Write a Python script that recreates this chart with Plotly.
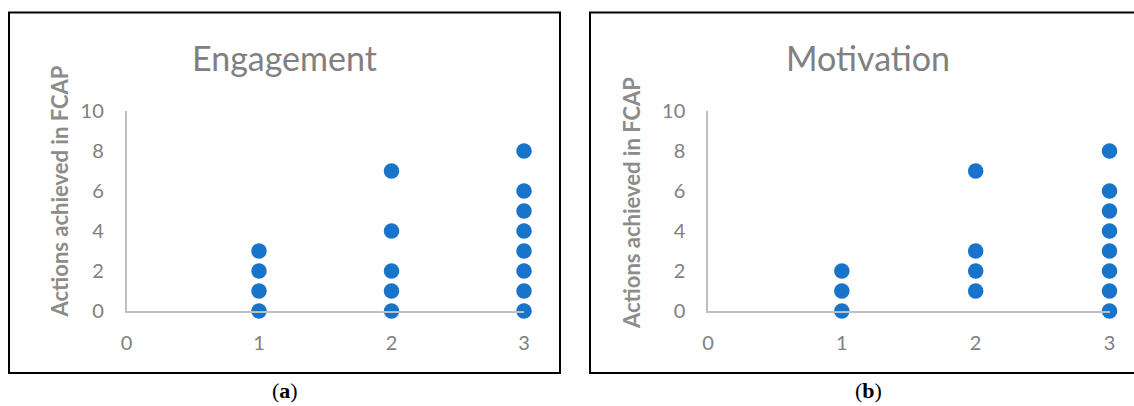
import plotly.graph_objects as go

# ---- data ----
eng_x = [1, 1, 1, 1, 2, 2, 2, 2, 2, 3, 3, 3, 3, 3, 3, 3, 3]
eng_y = [0, 1, 2, 3, 0, 1, 2, 4, 7, 0, 1, 2, 3, 4, 5, 6, 8]
mot_x = [1, 1, 1, 2, 2, 2, 2, 3, 3, 3, 3, 3, 3, 3, 3]
mot_y = [0, 1, 2, 1, 2, 3, 7, 0, 1, 2, 3, 4, 5, 6, 8]
titles = ["Engagement", "Motivation"]
y_title = "Actions achieved in FCAP"
panel_labels = ["(<b>a</b>)", "(<b>b</b>)"]
x_ticks = [0, 1, 2, 3]
y_ticks = [0, 2, 4, 6, 8, 10]

W, H = 1134, 406
def px(x):
    return x / W
def py(y):
    return 1 - y / H

MARK = "#1873cb"
GRAY = "#808080"
AXIS = "#bfbfbf"
FONT = "Lato"

fig = go.Figure()
fig.add_trace(go.Scatter(x=eng_x, y=eng_y, mode="markers", xaxis="x", yaxis="y",
                         marker=dict(color=MARK, size=15.5, line=dict(width=0)),
                         cliponaxis=False, showlegend=False))
fig.add_trace(go.Scatter(x=mot_x, y=mot_y, mode="markers", xaxis="x2", yaxis="y2",
                         marker=dict(color=MARK, size=15.5, line=dict(width=0)),
                         cliponaxis=False, showlegend=False))

def xaxis(dom, anchor):
    return dict(domain=dom, anchor=anchor, range=[0, 3], tickvals=x_ticks,
                showgrid=False, zeroline=False, showline=True, linecolor=AXIS,
                linewidth=1.5, ticks="", ticklabelstandoff=13, automargin=False,
                tickfont=dict(family=FONT, size=20, color=GRAY), fixedrange=True)

def yaxis(anchor):
    return dict(domain=[py(311), py(111)], anchor=anchor, range=[0, 10], tickvals=y_ticks,
                showgrid=False, zeroline=False, showline=True, linecolor=AXIS,
                linewidth=1.5, ticks="", ticklabelstandoff=17, automargin=False,
                tickfont=dict(family=FONT, size=20, color=GRAY), fixedrange=True)

fig.update_layout(
    width=W, height=H, margin=dict(l=0, r=0, t=0, b=0, pad=0, autoexpand=False),
    paper_bgcolor="white", plot_bgcolor="white", showlegend=False,
    xaxis=xaxis([px(126.5), px(524)], "y"),
    yaxis=yaxis("x"),
    xaxis2=xaxis([px(708), px(1109.5)], "y2"),
    yaxis2=yaxis("x2"),
)

shapes = [
    dict(type="rect", xref="paper", yref="paper", x0=px(9), x1=px(560), y0=py(373), y1=py(12.5),
         line=dict(color="black", width=2), layer="below"),
    dict(type="rect", xref="paper", yref="paper", x0=px(590), x1=px(1145), y0=py(373), y1=py(12.5),
         line=dict(color="black", width=2), layer="below"),
]
fig.update_layout(shapes=shapes)

anns = []
for cx, t in zip([284.5, 868], titles):
    anns.append(dict(text=t, x=px(cx), y=py(57), xref="paper", yref="paper",
                     xanchor="center", yanchor="middle", showarrow=False,
                     font=dict(family=FONT, size=34, color=GRAY)))
for cx, cy in [(58.5, 192), (631, 203)]:
    anns.append(dict(text="<b>" + y_title + "</b>", x=px(cx), y=py(cy), xref="paper", yref="paper",
                     xanchor="center", yanchor="middle", textangle=-90, showarrow=False,
                     font=dict(family=FONT, size=22, color="#8c8c8c")))
for cx, lab in zip([285, 868], panel_labels):
    anns.append(dict(text=lab, x=px(cx), y=py(405), xref="paper", yref="paper",
                     xanchor="center", yanchor="bottom", showarrow=False,
                     font=dict(family="Liberation Serif", size=22, color="black")))
fig.update_layout(annotations=anns)

fig.write_html("out.html", config={"displayModeBar": False})
